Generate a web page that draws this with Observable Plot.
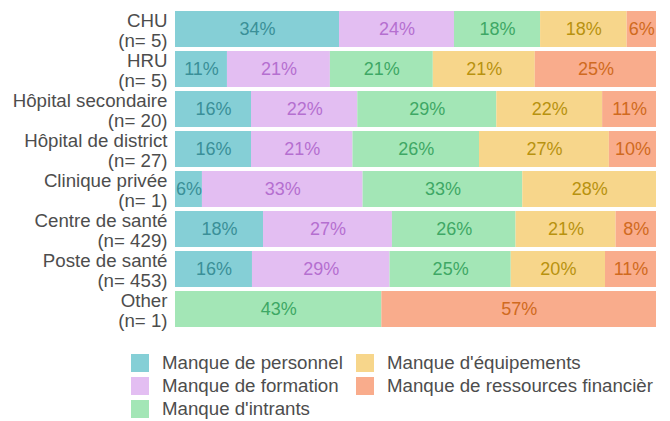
<!DOCTYPE html>
<html>
<head>
<meta charset="utf-8">
<script src="https://cdn.jsdelivr.net/npm/d3@7"></script>
<script src="https://cdn.jsdelivr.net/npm/@observablehq/plot@0.6"></script>
<style>
  html, body { margin: 0; padding: 0; background: #fff; width: 670px; overflow: hidden; }
  body { font-family: "Liberation Sans", Arial, sans-serif; color: #4d4d4d; }
  #legend { display: grid; grid-template-columns: 225px auto; grid-template-rows: repeat(3, 23.2px);
            grid-auto-flow: column; padding-left: 131px; margin-top: 11px; font-size: 18.7px; white-space: nowrap; }
  .item { display: flex; align-items: center; }
  .sw { width: 18px; height: 18px; margin-right: 13px; flex: none; }
</style>
</head>
<body>
<div id="chart"></div>
<div id="legend"></div>
<script>
const categories = ["CHU", "HRU", "Hôpital secondaire", "Hôpital de district", "Clinique privée", "Centre de santé", "Poste de santé", "Other"];
const counts = [5, 5, 20, 27, 1, 429, 453, 1];
const seriesNames = ["Manque de personnel", "Manque de formation", "Manque d'intrants", "Manque d'équipements", "Manque de ressources financièr"];
const personnel   = [34.1, 10.8, 15.8, 15.8, 5.6, 18.3, 16.0, 0];
const formation   = [23.9, 21.4, 22.1, 21.1, 33.4, 26.8, 28.6, 0];
const intrants    = [17.9, 21.4, 28.9, 26.3, 33.2, 25.7, 25.2, 42.9];
const equipements = [18.0, 21.2, 22.0, 27.0, 27.8, 20.8, 19.6, 0];
const financier   = [6.1, 25.2, 11.2, 9.8, 0, 8.4, 10.6, 57.1];
const fillColors = ["#85CFD6", "#E3BEF2", "#A3E6B6", "#F7D68B", "#F9AC8C"];
const textColors = ["#3A9098", "#B56FD0", "#3EA865", "#B8920F", "#D06A20"];

const seriesValues = [personnel, formation, intrants, equipements, financier];
const data = [];
categories.forEach((c, i) => {
  seriesNames.forEach((s, j) => {
    data.push({category: c, series: s, value: seriesValues[j][i]});
  });
});

const stackOpts = (extra) => Plot.stackX({
  x: "value", y: "category", z: "series", order: seriesNames, ...extra
});

const textMarks = seriesNames.map((s, j) => Plot.text(data, stackOpts({
  text: d => (d.series === s && d.value > 0) ? Math.round(d.value) + "%" : "",
  fill: textColors[j],
  fontSize: 18
})));

const chart = Plot.plot({
  width: 670,
  height: 340,
  marginLeft: 175,
  marginRight: 14,
  marginTop: 5,
  marginBottom: 7,
  style: {fontFamily: "'Liberation Sans', Arial, sans-serif", color: "#4d4d4d", background: "#fff"},
  x: {domain: [0, 100], axis: null},
  y: {domain: categories, axis: null, paddingInner: 0.1, paddingOuter: 0.1},
  color: {domain: seriesNames, range: fillColors},
  marks: [
    Plot.barX(data, stackOpts({fill: "series"})),
    ...textMarks,
    Plot.axisY({
      label: null,
      tickSize: 0, tickPadding: 8, fontSize: 18.7, lineHeight: 1.06, dy: 1.5,
      tickFormat: d => d + "\n(n= " + counts[categories.indexOf(d)] + ")"
    })
  ]
});
document.getElementById("chart").appendChild(chart);

const legend = document.getElementById("legend");
seriesNames.forEach((s, j) => {
  const item = document.createElement("div");
  item.className = "item";
  const sw = document.createElement("span");
  sw.className = "sw";
  sw.style.background = fillColors[j];
  const label = document.createElement("span");
  label.textContent = s;
  item.appendChild(sw);
  item.appendChild(label);
  legend.appendChild(item);
});
</script>
</body>
</html>
